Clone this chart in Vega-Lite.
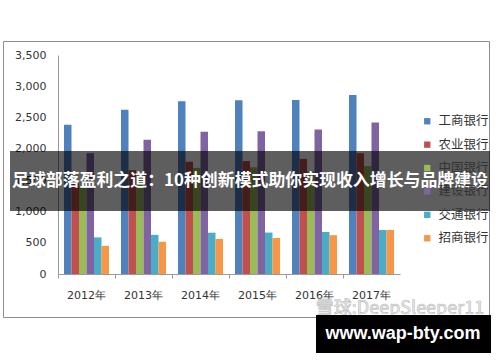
{
  "$schema": "https://vega.github.io/schema/vega-lite/v6.json",
  "width": 342,
  "height": 219,
  "autosize": {"type": "none"},
  "padding": {"left": 58, "top": 55, "right": 100, "bottom": 88},
  "background": "white",
  "config": {"view": {"stroke": null}, "font": "DejaVu Sans"},
  "datasets": {
    "banks": [
      {"year": "2012年", "bank": "工商银行", "value": 2385},
      {"year": "2012年", "bank": "农业银行", "value": 1450},
      {"year": "2012年", "bank": "中国银行", "value": 1395},
      {"year": "2012年", "bank": "建设银行", "value": 1930},
      {"year": "2012年", "bank": "交通银行", "value": 585},
      {"year": "2012年", "bank": "招商银行", "value": 450},
      {"year": "2013年", "bank": "工商银行", "value": 2625},
      {"year": "2013年", "bank": "农业银行", "value": 1660},
      {"year": "2013年", "bank": "中国银行", "value": 1570},
      {"year": "2013年", "bank": "建设银行", "value": 2145},
      {"year": "2013年", "bank": "交通银行", "value": 625},
      {"year": "2013年", "bank": "招商银行", "value": 515},
      {"year": "2014年", "bank": "工商银行", "value": 2760},
      {"year": "2014年", "bank": "农业银行", "value": 1795},
      {"year": "2014年", "bank": "中国银行", "value": 1695},
      {"year": "2014年", "bank": "建设银行", "value": 2275},
      {"year": "2014年", "bank": "交通银行", "value": 660},
      {"year": "2014年", "bank": "招商银行", "value": 560},
      {"year": "2015年", "bank": "工商银行", "value": 2775},
      {"year": "2015年", "bank": "农业银行", "value": 1805},
      {"year": "2015年", "bank": "中国银行", "value": 1705},
      {"year": "2015年", "bank": "建设银行", "value": 2280},
      {"year": "2015年", "bank": "交通银行", "value": 662},
      {"year": "2015年", "bank": "招商银行", "value": 575},
      {"year": "2016年", "bank": "工商银行", "value": 2780},
      {"year": "2016年", "bank": "农业银行", "value": 1840},
      {"year": "2016年", "bank": "中国银行", "value": 1640},
      {"year": "2016年", "bank": "建设银行", "value": 2310},
      {"year": "2016年", "bank": "交通银行", "value": 672},
      {"year": "2016年", "bank": "招商银行", "value": 620},
      {"year": "2017年", "bank": "工商银行", "value": 2860},
      {"year": "2017年", "bank": "农业银行", "value": 1930},
      {"year": "2017年", "bank": "中国银行", "value": 1725},
      {"year": "2017年", "bank": "建设银行", "value": 2420},
      {"year": "2017年", "bank": "交通银行", "value": 703},
      {"year": "2017年", "bank": "招商银行", "value": 703}
    ]
  },
  "layer": [
    {
      "data": {"values": [{}]},
      "mark": {"type": "rect", "fill": null, "stroke": "#8c8c8c", "strokeWidth": 1},
      "encoding": {
        "x": {"datum": -0.1594, "type": "quantitative", "scale": {"domain": [0, 1]}, "axis": null},
        "x2": {"datum": 1.2617},
        "y": {"datum": 1.0616, "type": "quantitative", "scale": {"domain": [0, 1]}, "axis": null},
        "y2": {"datum": -0.1986}
      }
    },
    {
      "data": {"name": "banks"},
      "mark": {"type": "bar"},
      "encoding": {
        "x": {
          "field": "year", "type": "nominal", "sort": null,
          "scale": {"paddingInner": 0, "paddingOuter": 0},
          "axis": {
            "title": null, "bandPosition": 0, "labelAngle": 0,
            "domainColor": "#999999", "tickColor": "#999999", "tickSize": 4,
            "labelFont": "DejaVu Sans", "labelFontSize": 11, "labelColor": "#333333", "labelPadding": 11
          }
        },
        "xOffset": {
          "field": "bank", "type": "nominal",
          "sort": ["工商银行", "农业银行", "中国银行", "建设银行", "交通银行", "招商银行"],
          "scale": {"paddingOuter": 0.8, "paddingInner": 0}
        },
        "y": {
          "field": "value", "type": "quantitative",
          "scale": {"domain": [0, 3500]},
          "axis": {
            "title": null, "values": [0, 500, 1000, 1500, 2000, 2500, 3000, 3500], "format": ",d",
            "gridColor": "#bdbdbd", "domainColor": "#999999", "ticks": false, "tickSize": 0,
            "labelPadding": 12, "labelFont": "DejaVu Sans", "labelFontSize": 11, "labelColor": "#333333"
          }
        },
        "color": {
          "field": "bank", "type": "nominal",
          "scale": {
            "domain": ["工商银行", "农业银行", "中国银行", "建设银行", "交通银行", "招商银行"],
            "range": ["#4F81BD", "#C0504D", "#9BBB59", "#8064A2", "#4BACC6", "#F79646"]
          },
          "legend": {
            "orient": "none", "legendX": 363, "legendY": 60, "title": null,
            "symbolType": "square", "symbolSize": 40, "symbolStrokeWidth": 0,
            "labelFont": "Noto Sans CJK SC", "labelFontSize": 12.5, "labelColor": "#333333",
            "rowPadding": 10.4, "labelOffset": 5
          }
        }
      }
    },
    {
      "data": {"values": [{}]},
      "mark": {"type": "rect", "fill": "#000000", "opacity": 0.63},
      "encoding": {
        "x": {"datum": -0.1404, "type": "quantitative", "scale": {"domain": [0, 1]}, "axis": null},
        "x2": {"datum": 1.2632},
        "y": {"datum": 0.5616, "type": "quantitative", "scale": {"domain": [0, 1]}, "axis": null},
        "y2": {"datum": 0.2877}
      }
    },
    {
      "data": {"values": [{}]},
      "mark": {
        "type": "text", "text": "足球部落盈利之道：10种创新模式助你实现收入增长与品牌建设",
        "font": "Noto Sans CJK SC", "fontWeight": "bold", "fontSize": 16.9,
        "fill": "#ffffff", "align": "center", "baseline": "middle"
      },
      "encoding": {
        "x": {"datum": 0.5614, "type": "quantitative", "scale": {"domain": [0, 1]}, "axis": null},
        "y": {"datum": 0.4247, "type": "quantitative", "scale": {"domain": [0, 1]}, "axis": null}
      }
    },
    {
      "data": {"values": [{}]},
      "mark": {
        "type": "text", "text": "雪球:DeepSleeper11",
        "font": "Noto Sans CJK SC", "fontSize": 18,
        "fill": "#eeeeee", "stroke": "#b8b8b8", "strokeWidth": 0.6,
        "align": "center", "baseline": "middle"
      },
      "encoding": {
        "x": {"datum": 1.0, "type": "quantitative", "scale": {"domain": [0, 1]}, "axis": null},
        "y": {"datum": -0.158, "type": "quantitative", "scale": {"domain": [0, 1]}, "axis": null}
      }
    },
    {
      "data": {"values": [{}]},
      "mark": {"type": "rect", "fill": "#000000"},
      "encoding": {
        "x": {"datum": 0.7544, "type": "quantitative", "scale": {"domain": [0, 1]}, "axis": null},
        "x2": {"datum": 1.2661},
        "y": {"datum": -0.1872, "type": "quantitative", "scale": {"domain": [0, 1]}, "axis": null},
        "y2": {"datum": -0.3607}
      }
    },
    {
      "data": {"values": [{}]},
      "mark": {
        "type": "text", "text": "www.wap-bty.com",
        "font": "Liberation Sans", "fontWeight": "bold", "fontSize": 18,
        "fill": "#ffffff", "align": "center", "baseline": "middle"
      },
      "encoding": {
        "x": {"datum": 1.0088, "type": "quantitative", "scale": {"domain": [0, 1]}, "axis": null},
        "y": {"datum": -0.274, "type": "quantitative", "scale": {"domain": [0, 1]}, "axis": null}
      }
    }
  ],
  "resolve": {
    "scale": {"x": "independent", "y": "independent"},
    "axis": {"x": "independent", "y": "independent"}
  }
}
